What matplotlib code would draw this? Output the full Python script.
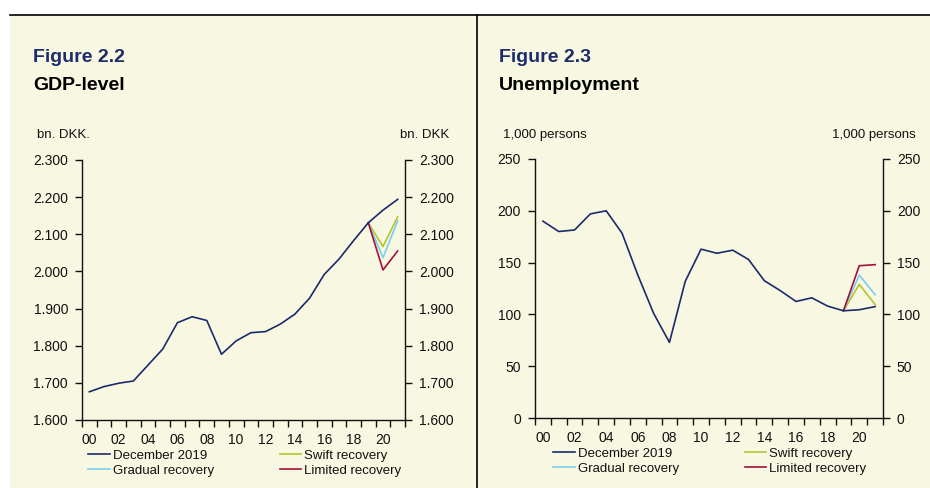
import matplotlib
matplotlib.use("Agg")
import matplotlib.pyplot as plt
import matplotlib.ticker as mticker
import numpy as np

plt.rcParams['font.family'] = ['Liberation Sans', 'DejaVu Sans']

years = list(range(2000, 2022))
year_labels = [f"{y % 100:02d}" for y in years]

gdp_dec2019 = [1676, 1690, 1699, 1705, 1748, 1791, 1862, 1878, 1868, 1777, 1813,
               1835, 1838, 1858, 1885, 1928, 1992, 2033, 2083, 2131, 2165, 2194]
gdp_swift = [2131, 2067, 2147]
gdp_gradual = [2131, 2037, 2136]
gdp_limited = [2131, 2004, 2055]

unemp_dec2019 = [190, 180, 181.5, 197, 200, 178.5, 138, 101, 73, 132, 163,
                 159, 162, 153, 132.5, 123, 112.5, 116, 108, 103.5, 104.5, 107.5]
unemp_swift = [103.5, 129, 109.5]
unemp_gradual = [103.5, 138, 119]
unemp_limited = [103.5, 147, 148]

scen_years = [2019, 2020, 2021]

W, H = 930, 488
BG = "#F8F8E2"
NAVY = "#1C2A6B"
GREEN = "#B5C52C"
LBLUE = "#7CCDEB"
RED = "#A60E3B"
TXT = "#111111"

fig = plt.figure(figsize=(W / 100, H / 100), dpi=100)
fig.patch.set_facecolor("white")

def fx(x):
    return x / W

def fy(y):
    return 1 - y / H

# beige background
fig.add_artist(plt.Rectangle((fx(10), 0), 1 - fx(10), fy(15), transform=fig.transFigure,
                             facecolor=BG, edgecolor="none", zorder=0))
# top rule and separator
fig.add_artist(plt.Line2D([fx(10), 1], [fy(14.5), fy(14.5)], transform=fig.transFigure,
                          color="black", lw=1.2))
fig.add_artist(plt.Line2D([fx(476.5), fx(476.5)], [0, fy(14.5)], transform=fig.transFigure,
                          color="black", lw=1.2))


def make_axes(left, right, top, bottom):
    ax = fig.add_axes([fx(left), fy(bottom), fx(right - left), (bottom - top) / H])
    ax.set_facecolor("none")
    ax.spines['top'].set_visible(False)
    for s in ['left', 'right', 'bottom']:
        ax.spines[s].set_color(TXT)
        ax.spines[s].set_linewidth(1.0)
    return ax


def setup(ax, dec, swift, gradual, limited, ylim, ystep, fmt, leg_x):
    x = np.arange(len(years))
    xs = [years.index(y) for y in scen_years]
    ax.plot(xs, swift, color=GREEN, lw=1.2, label="Swift recovery", zorder=3)
    ax.plot(xs, gradual, color=LBLUE, lw=1.2, label="Gradual recovery", zorder=3)
    ax.plot(xs, limited, color=RED, lw=1.2, label="Limited recovery", zorder=3)
    ax.plot(x, dec, color=NAVY, lw=1.2, label="December 2019", zorder=4)
    ax.set_xlim(-0.5, len(years) - 0.5)
    ax.set_ylim(*ylim)
    ax.yaxis.set_major_locator(mticker.MultipleLocator(ystep))
    ax.yaxis.set_major_formatter(mticker.FuncFormatter(fmt))
    ax.tick_params(axis='y', which='major', direction='out', length=5, width=1.0,
                   left=True, right=True, labelleft=True, labelright=True,
                   labelsize=10, colors=TXT, pad=5)
    ax.set_xticks(np.arange(-0.5, len(years)), minor=False)
    ax.set_xticklabels([])
    ax.set_xticks(x[::2], minor=True)
    ax.set_xticklabels(year_labels[::2], minor=True)
    ax.tick_params(axis='x', which='major', direction='out', length=5, width=1.0, colors=TXT)
    ax.tick_params(axis='x', which='minor', length=0, labelsize=10, colors=TXT, pad=9)
    h, l = ax.get_legend_handles_labels()
    order = [3, 1, 0, 2]
    leg = ax.legend([h[i] for i in order], [l[i] for i in order], ncol=2, frameon=False,
                    loc='upper left', bbox_to_anchor=(leg_x, -0.114), fontsize=9.5,
                    handlelength=1.65, handletextpad=0.2, columnspacing=5.0,
                    labelspacing=0.2, borderaxespad=0, borderpad=0)
    for t in leg.get_texts():
        t.set_color(TXT)


# Left panel: GDP
axL = make_axes(82, 405, 160, 420)
setup(axL, gdp_dec2019, gdp_swift, gdp_gradual, gdp_limited, (1600, 2300), 100,
      lambda v, p: f"{v:,.0f}".replace(",", "."), 0.019)

# Right panel: Unemployment
axR = make_axes(535, 883, 159, 418)
setup(axR, unemp_dec2019, unemp_swift, unemp_gradual, unemp_limited, (0, 250), 50,
      lambda v, p: f"{v:.0f}", 0.052)

# Titles
fig.text(fx(33), fy(57), "Figure 2.2", fontsize=14, fontweight='bold', color="#1B2D6B",
         va='center', ha='left')
fig.text(fx(33), fy(85), "GDP-level", fontsize=14, fontweight='bold', color="black",
         va='center', ha='left')
fig.text(fx(37), fy(135), "bn. DKK.", fontsize=9.5, color=TXT, va='center', ha='left')
fig.text(fx(449), fy(135), "bn. DKK", fontsize=9.5, color=TXT, va='center', ha='right')

fig.text(fx(499), fy(57), "Figure 2.3", fontsize=14, fontweight='bold', color="#1B2D6B",
         va='center', ha='left')
fig.text(fx(499), fy(85), "Unemployment", fontsize=14, fontweight='bold', color="black",
         va='center', ha='left')
fig.text(fx(503), fy(135), "1,000 persons", fontsize=9.5, color=TXT, va='center', ha='left')
fig.text(fx(916), fy(135), "1,000 persons", fontsize=9.5, color=TXT, va='center', ha='right')

fig.savefig("out.png", dpi=100, facecolor=fig.get_facecolor())
